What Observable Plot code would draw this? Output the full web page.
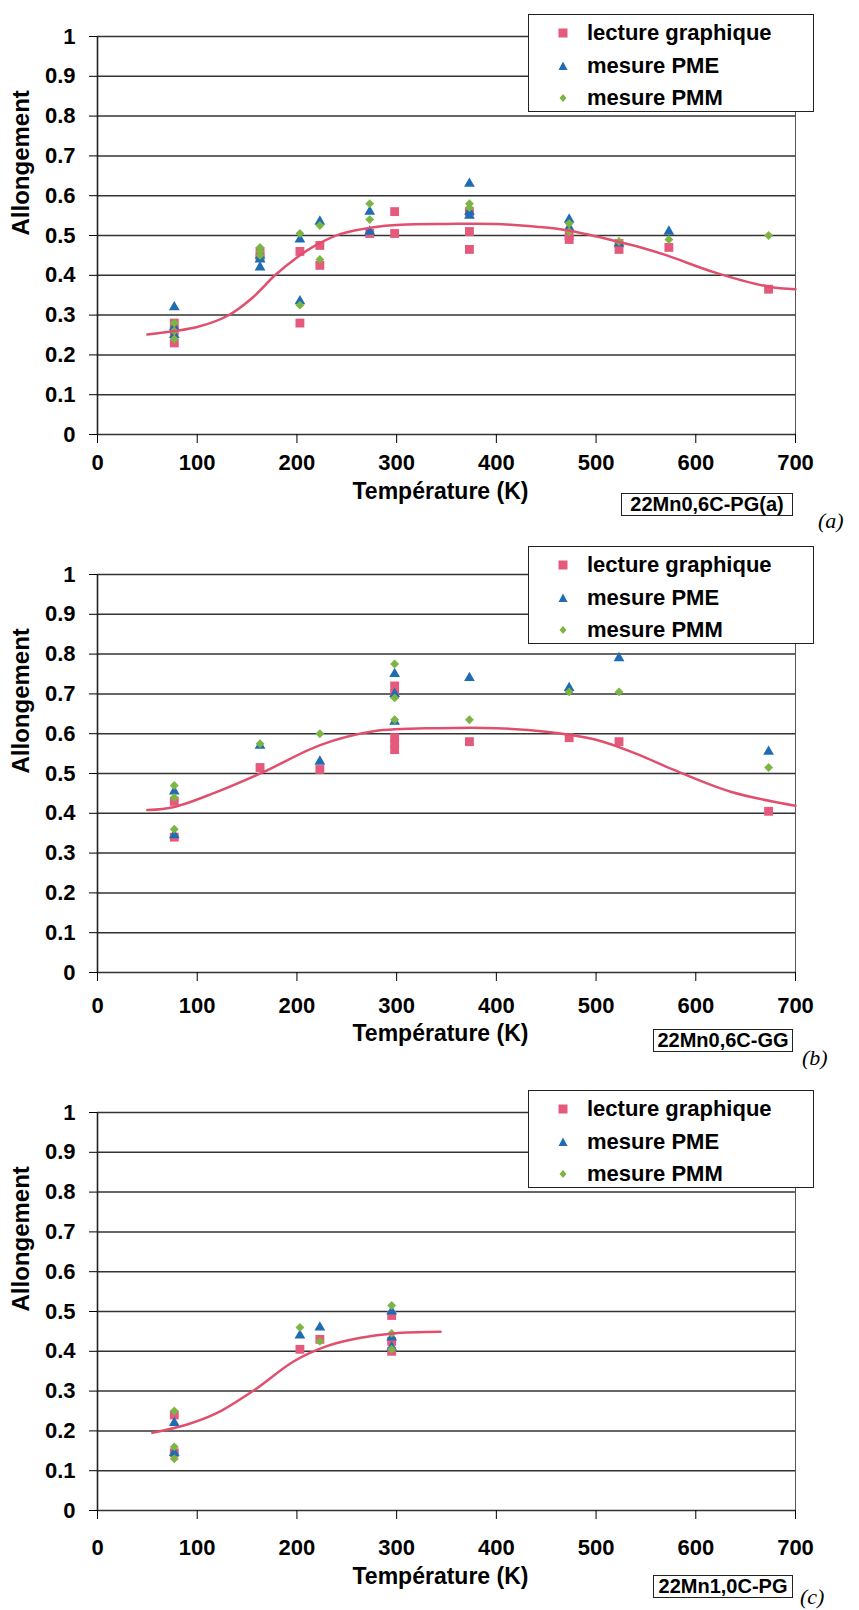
<!DOCTYPE html>
<html><head><meta charset="utf-8">
<script src="https://cdn.jsdelivr.net/npm/d3@7"></script>
<script src="https://cdn.jsdelivr.net/npm/@observablehq/plot@0.6"></script>
<style>
body{margin:0;background:#fff;}
#root{position:relative;width:859px;height:1610px;overflow:hidden;font-family:"Liberation Sans",Arial,sans-serif;color:#000;}
.panel{position:absolute;left:0;width:859px;height:537px;}
.panel svg{position:absolute;left:0;top:0;}
.legend{position:absolute;left:528px;width:284px;height:96px;border:1.5px solid #222;background:#fff;}
.legend .item{position:absolute;left:0;height:30px;width:280px;font-weight:bold;font-size:22px;}
.legend .item svg{position:absolute;left:27px;top:8px;}
.legend .item span{position:absolute;left:58px;top:2px;line-height:26px;white-space:nowrap;}
.tag{position:absolute;border:1.5px solid #222;font-weight:bold;font-size:20px;line-height:21px;height:21px;text-align:center;background:#fff;white-space:nowrap;}
.letter{position:absolute;font-family:"Liberation Serif","Times New Roman",serif;font-style:italic;font-size:22px;line-height:24px;}
</style></head>
<body><div id="root"></div>
<script>
// ---- axis ticks ----
const xTicks = [0, 100, 200, 300, 400, 500, 600, 700];
const yTicks = [0, 0.1, 0.2, 0.3, 0.4, 0.5, 0.6, 0.7, 0.8, 0.9, 1];

// ---- series ----
const seriesNames = ["lecture graphique", "mesure PME", "mesure PMM"];
const seriesColors = ["#e55a7c", "#1f6cb3", "#7db545"];
const seriesSymbols = ["square", "triangle", "diamond2"];
const curveColor = "#e0506e";
const panelTags = ["22Mn0,6C-PG(a)", "22Mn0,6C-GG", "22Mn1,0C-PG"];
const panelLetters = ["(a)", "(b)", "(c)"];

// ---- panel (a) : [Température (K), Allongement] ----
const aLecture = [[77,0.28],[77,0.26],[77,0.23],[163,0.46],[163,0.445],[203,0.46],[203,0.28],[223,0.475],[223,0.425],[273,0.505],[298,0.56],[298,0.505],[373,0.56],[373,0.51],[373,0.465],[473,0.49],[473,0.50],[523,0.465],[523,0.48],[573,0.47],[673,0.365]];
const aPME = [[77,0.32],[77,0.27],[77,0.25],[163,0.45],[163,0.42],[163,0.44],[203,0.49],[203,0.335],[223,0.535],[273,0.56],[273,0.51],[373,0.63],[373,0.56],[373,0.55],[473,0.54],[473,0.52],[523,0.48],[573,0.51]];
const aPMM = [[77,0.28],[77,0.26],[77,0.24],[163,0.47],[163,0.46],[163,0.45],[203,0.505],[203,0.325],[223,0.525],[223,0.44],[273,0.58],[273,0.54],[373,0.58],[373,0.57],[473,0.53],[473,0.51],[523,0.485],[573,0.49],[673,0.50]];
const aCurve = [[50,0.251],[77,0.26],[100,0.27],[131,0.299],[156,0.345],[178,0.40],[200,0.445],[220,0.477],[244,0.504],[277,0.521],[304,0.527],[350,0.529],[400,0.529],[440,0.522],[471,0.513],[518,0.487],[545,0.47],[571,0.45],[618,0.408],[672,0.372],[700,0.365]];

// ---- panel (b) ----
const bLecture = [[77,0.43],[77,0.34],[163,0.515],[223,0.51],[298,0.72],[298,0.70],[298,0.59],[298,0.575],[298,0.56],[373,0.58],[473,0.59],[523,0.58],[673,0.405]];
const bPME = [[77,0.455],[77,0.345],[163,0.57],[223,0.53],[298,0.75],[298,0.70],[298,0.63],[373,0.74],[473,0.715],[523,0.79],[673,0.555]];
const bPMM = [[77,0.47],[77,0.44],[77,0.36],[163,0.575],[223,0.60],[298,0.775],[298,0.69],[298,0.635],[373,0.635],[473,0.705],[523,0.705],[673,0.515]];
const bCurve = [[50,0.408],[77,0.416],[116,0.45],[165,0.502],[224,0.572],[277,0.606],[344,0.614],[400,0.614],[450,0.605],[500,0.585],[540,0.55],[578,0.509],[635,0.454],[700,0.419]];

// ---- panel (c) ----
const cLecture = [[77,0.24],[77,0.145],[203,0.405],[223,0.43],[295,0.49],[295,0.425],[295,0.40]];
const cPME = [[77,0.22],[77,0.145],[203,0.44],[223,0.46],[295,0.50],[295,0.435],[295,0.41]];
const cPMM = [[77,0.25],[77,0.16],[77,0.13],[203,0.46],[223,0.425],[295,0.515],[295,0.445],[295,0.405]];
const cCurve = [[55,0.195],[90,0.216],[120,0.245],[157,0.302],[197,0.375],[230,0.413],[264,0.434],[297,0.445],[344,0.449]];

const panels = [
  {top: 0, series: [aLecture, aPME, aPMM], curve: aCurve},
  {top: 537.5, series: [bLecture, bPME, bPMM], curve: bCurve},
  {top: 1076, series: [cLecture, cPME, cPMM], curve: cCurve}
];
const dotR = [5, 4, 4];
const legendTop = [14, 8, 14];
const xTickPad = [11, 16, 20];
const titleDy = [64, 68, 73];
const tagBoxes = [{left: 621, top: 493, width: 170}, {left: 653, top: 491, width: 138}, {left: 653, top: 499, width: 138}];
const letterPos = [{left: 818, top: 509}, {left: 802, top: 508}, {left: 800, top: 509}];

const root = document.getElementById("root");

function legendMarker(k) {
  const c = seriesColors[k];
  let shape;
  if (k === 0) shape = `<rect x="2.5" y="2.5" width="9" height="9" fill="${c}"/>`;
  else if (k === 1) shape = `<path d="M7,2.5 L11.5,11 L2.5,11 Z" fill="${c}"/>`;
  else shape = `<path d="M7,3 L10.5,7 L7,11 L3.5,7 Z" fill="${c}"/>`;
  return `<svg width="14" height="14">${shape}</svg>`;
}

panels.forEach((p, i) => {
  const div = document.createElement("div");
  div.className = "panel";
  div.style.top = p.top + "px";
  root.appendChild(div);

  const marks = [
    Plot.ruleY(yTicks, {stroke: "#333", strokeWidth: 1.5}),
    Plot.ruleX([700], {y1: 0, y2: 1, stroke: "#555", strokeWidth: 1}),
    Plot.ruleX([0], {y1: 0, y2: 1, stroke: "#222", strokeWidth: 1.6}),
    Plot.axisY({ticks: yTicks, tickSize: 8, tickPadding: 14, label: null,
      tickFormat: d => (d === 0 ? "0" : d === 1 ? "1" : String(d))}),
    Plot.axisX({ticks: xTicks, tickSize: 9, tickPadding: xTickPad[i], label: null, tickFormat: d => String(d)})
  ];
  p.series.forEach((arr, k) => {
    marks.push(Plot.dot(arr, {x: d => d[0], y: d => d[1], symbol: seriesSymbols[k], r: dotR[k], fill: seriesColors[k]}));
  });
  marks.push(Plot.line(p.curve, {x: d => d[0], y: d => d[1], curve: "catmull-rom", stroke: curveColor, strokeWidth: 2.5}));
  marks.push(Plot.text(["Allongement"], {text: d => d, frameAnchor: "left", rotate: -90, dx: -76, fontSize: 24}));
  marks.push(Plot.text(["Température (K)"], {text: d => d, frameAnchor: "bottom", dx: -6, dy: titleDy[i], fontSize: 23}));

  const svg = Plot.plot({
    width: 859, height: 537,
    marginLeft: 97, marginRight: 64, marginTop: 36, marginBottom: 103,
    x: {domain: [0, 700]},
    y: {domain: [0, 1]},
    style: {fontFamily: '"Liberation Sans", Arial, sans-serif', fontSize: "22px", fontWeight: "bold", color: "#000", background: "transparent", overflow: "visible"},
    marks
  });
  div.appendChild(svg);

  const leg = document.createElement("div");
  leg.className = "legend";
  leg.style.top = legendTop[i] + "px";
  seriesNames.forEach((name, k) => {
    const it = document.createElement("div");
    it.className = "item";
    it.style.top = [3, 36, 68][k] + "px";
    it.innerHTML = legendMarker(k) + `<span>${name}</span>`;
    leg.appendChild(it);
  });
  div.appendChild(leg);

  const tag = document.createElement("div");
  tag.className = "tag";
  const tb = tagBoxes[i];
  tag.style.left = tb.left + "px";
  tag.style.top = tb.top + "px";
  tag.style.width = tb.width + "px";
  tag.textContent = panelTags[i];
  div.appendChild(tag);

  const let_ = document.createElement("div");
  let_.className = "letter";
  let_.style.left = letterPos[i].left + "px";
  let_.style.top = letterPos[i].top + "px";
  let_.textContent = panelLetters[i];
  div.appendChild(let_);
});
</script>
</body></html>
